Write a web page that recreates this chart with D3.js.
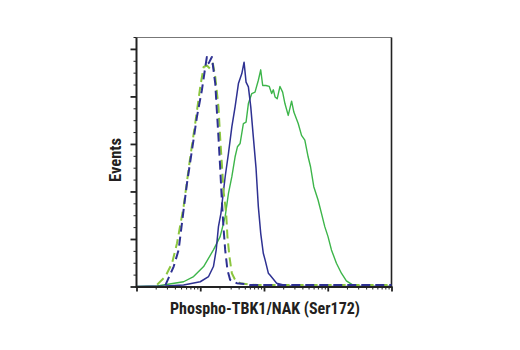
<!DOCTYPE html>
<html><head><meta charset="utf-8">
<script src="https://cdn.jsdelivr.net/npm/d3@7"></script>
<style>
html,body{margin:0;padding:0;background:#fff;}
svg{display:block;}
.title{font-family:"Liberation Sans Narrow","Arial Narrow","Roboto Condensed","Liberation Sans",sans-serif;font-weight:bold;font-size:16px;fill:#231f20;}
</style></head>
<body>
<svg id="chart" width="520" height="350"></svg>
<script>
// Fluorescence intensity (log scale) and relative event counts
const blueDashedX = [2.84, 3.83, 4.58, 5.48, 6.19, 7.42, 8.87, 10.6, 12.0, 12.7, 13.6, 15.2, 17.2, 18.2, 19.3, 20.5, 21.8, 23.1, 24.6, 26.7, 29.4, 37.4, 50.5, 60, 10000];
const blueDashedY = [0.03, 0.42, 0.77, 1.61, 2.17, 2.87, 3.57, 4.13, 4.62, 4.83, 4.70, 4.83, 4.27, 3.71, 3.15, 2.52, 1.82, 1.26, 0.77, 0.35, 0.14, 0.07, 0.05, 0.03, 0.03];

const greenDashedX = [2.11, 2.84, 3.61, 4.32, 5.48, 6.98, 8.35, 10.0, 11.3, 12.7, 14.3, 15.8, 17.2, 19.3, 20.5, 21.8, 23.1, 25.5, 26.7, 28.7, 31.3, 35.2, 42.2, 60.4, 80, 10000];
const greenDashedY = [0.04, 0.21, 0.49, 0.91, 1.68, 2.73, 3.44, 4.20, 4.62, 4.65, 4.58, 4.69, 4.41, 3.78, 3.15, 2.59, 2.03, 1.54, 1.05, 0.63, 0.28, 0.14, 0.07, 0.04, 0.03, 0.03];

const blueSolidX = [1, 2.84, 5.48, 10, 13.5, 16.1, 17.8, 19.3, 21.1, 22.6, 24.6, 27.7, 31.3, 35.2, 39.7, 44.9, 48.7, 52.3, 56.9, 62.0, 68.0, 75.0, 81.5, 88.8, 97.5, 104, 117, 124, 158, 226, 300, 10000];
const blueSolidY = [0, 0.01, 0.03, 0.10, 0.21, 0.42, 0.77, 1.26, 1.54, 1.89, 2.31, 2.80, 3.36, 3.78, 4.27, 4.48, 4.72, 4.30, 4.20, 3.78, 3.15, 2.49, 1.68, 1.12, 0.70, 0.56, 0.28, 0.24, 0.07, 0.015, 0, 0];

const greenSolidX = [1, 2.11, 5.48, 7.86, 11.3, 16.1, 20.5, 24.6, 27.7, 31.3, 35.2, 38.3, 42.2, 47.5, 52.3, 56.9, 64.3, 72.3, 81.5, 88.8, 95.4, 107, 121, 132, 140, 149, 161, 178, 196, 213, 240, 271, 294, 344, 388, 437, 492, 537, 604, 705, 797, 898, 1010, 1143, 1368, 1637, 1960, 2485, 3162, 10000];
const greenSolidY = [0, 0.01, 0.10, 0.21, 0.42, 0.77, 1.05, 1.47, 1.96, 2.31, 2.73, 2.94, 3.01, 3.43, 3.46, 3.85, 4.06, 4.09, 4.34, 4.56, 4.23, 4.23, 4.21, 4.06, 4.14, 3.99, 3.95, 4.21, 4.09, 3.85, 3.60, 3.90, 3.67, 3.43, 3.18, 3.08, 2.73, 2.52, 2.10, 1.82, 1.54, 1.26, 1.05, 0.77, 0.49, 0.28, 0.12, 0.03, 0.004, 0];

const xDomain = [1, 10000];
const yDomain = [0, 5.24];
const yMajorTicks = [0, 1, 2, 3, 4, 5];
const yMinorTicks = [0.25, 0.5, 0.75, 1.25, 1.5, 1.75, 2.25, 2.5, 2.75, 3.25, 3.5, 3.75, 4.25, 4.5, 4.75, 5.25];
const xTitle = "Phospho-TBK1/NAK (Ser172)";
const yTitle = "Events";

const svg = d3.select("#chart");
const L = 136.5, R = 391.5, T = 37.5, B = 286.5;
const x = d3.scaleLog().domain(xDomain).range([L, R]);
const y = d3.scaleLinear().domain(yDomain).range([B, T]);

// frame top (thin gray) and right
svg.append("line").attr("x1", L).attr("x2", R).attr("y1", T).attr("y2", T)
  .attr("stroke", "#777").attr("stroke-width", 1);
svg.append("line").attr("x1", R).attr("x2", R).attr("y1", T).attr("y2", B)
  .attr("stroke", "#222").attr("stroke-width", 1.6);

// series
const line = d3.line().x(d => x(d[0])).y(d => y(d[1])).curve(d3.curveLinear);
function series(xs, ys, color, width, dash) {
  const data = xs.map((v, i) => [v, ys[i]]);
  const p = svg.append("path").datum(data).attr("d", line)
    .attr("fill", "none").attr("stroke", color).attr("stroke-width", width)
    .attr("stroke-linejoin", "round");
  if (dash) p.attr("stroke-dasharray", dash);
}
series(greenSolidX, greenSolidY, "#3db54a", 1.4);
series(blueSolidX, blueSolidY, "#2e3192", 1.5);
series(greenDashedX, greenDashedY, "#8cc63f", 2, "9,5");
series(blueDashedX, blueDashedY, "#2e3192", 2, "9,5");

// y axis
const yMajor = d3.axisLeft(y).tickValues(yMajorTicks).tickSize(6).tickFormat("");
const yMinor = d3.axisLeft(y).tickValues(yMinorTicks).tickSize(3).tickFormat("");
const gyMin = svg.append("g").attr("transform", `translate(${L},0)`).call(yMinor);
gyMin.select(".domain").remove();
gyMin.selectAll("line").attr("stroke", "#222").attr("stroke-width", 1);
const gy = svg.append("g").attr("transform", `translate(${L},0)`).call(yMajor);
gy.select(".domain").remove();
gy.selectAll("line").attr("stroke", "#222").attr("stroke-width", 1.8);
svg.append("line").attr("x1", L).attr("x2", L).attr("y1", T).attr("y2", B + 1)
  .attr("stroke", "#222").attr("stroke-width", 2);

// x axis
const xMajorVals = [1, 10, 100, 1000, 10000];
const xMinorVals = [];
[1, 10, 100, 1000].forEach(d => { for (let k = 2; k <= 9; k++) xMinorVals.push(d * k); });
const xMinor = d3.axisBottom(x).tickValues(xMinorVals).tickSize(3).tickFormat("");
const xMajor = d3.axisBottom(x).tickValues(xMajorVals).tickSize(5).tickFormat("");
const gxMin = svg.append("g").attr("transform", `translate(0,${B})`).call(xMinor);
gxMin.select(".domain").remove();
gxMin.selectAll("line").attr("stroke", "#222").attr("stroke-width", 1);
const gx = svg.append("g").attr("transform", `translate(0,${B})`).call(xMajor);
gx.select(".domain").remove();
gx.selectAll("line").attr("stroke", "#222").attr("stroke-width", 1.8);
svg.append("line").attr("x1", L - 1).attr("x2", R + 0.8).attr("y1", B + 0.5).attr("y2", B + 0.5)
  .attr("stroke", "#222").attr("stroke-width", 2);

// titles
svg.append("text").attr("class", "title").attr("x", 265).attr("y", 314)
  .attr("text-anchor", "middle")
  .attr("textLength", 190).attr("lengthAdjust", "spacingAndGlyphs").text(xTitle);
svg.append("text").attr("class", "title")
  .attr("transform", `translate(121,160) rotate(-90)`)
  .attr("text-anchor", "middle")
  .attr("textLength", 44).attr("lengthAdjust", "spacingAndGlyphs").text(yTitle);
</script>
</body></html>
